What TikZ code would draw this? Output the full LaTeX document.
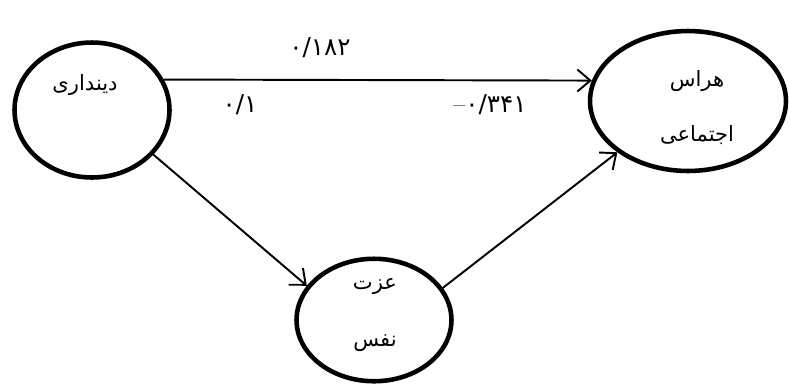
\documentclass[tikz,border=0pt]{standalone}
\usepackage{fontspec}
\newfontfamily\arabicfont[Script=Arabic]{DejaVu Sans}
\TeXXeTstate=1
\usetikzlibrary{positioning, arrows.meta, shapes.geometric}

\begin{document}
\begin{tikzpicture}[x=0.02cm, y=-0.02cm, var/.style={draw, ellipse, line width=2.6pt, inner sep=0pt}, lbl/.style={font=\arabicfont\fontsize{12}{14}\selectfont, inner sep=1pt}, coef/.style={font=\arabicfont\fontsize{14}{16}\selectfont, inner sep=1pt}, arrow/.style={-{Straight Barb[length=2.6mm, width=4.4mm]}, line width=1.1pt}]

  \useasboundingbox (0,0) rectangle (790,383);

  \node[var, minimum width=3.1cm, minimum height=2.7cm] (din) at (92,110) {};
  \node[lbl] (dint) at (85,85) {\beginR دینداری\endR};

  \node[var, minimum width=3.92cm, minimum height=2.8cm] (haras) at (688,101) {};
  \node[lbl] (harast) at (697,81) {\beginR هراس\endR};
  \node[lbl, below=0.6cm of harast] (ejtemat) {\beginR اجتماعی\endR};

  \node[var, minimum width=3.1cm, minimum height=2.45cm] (ezzat) at (374,320) {};
  \node[lbl] (ezzatt) at (375,287) {\beginR عزت\endR};
  \node[lbl, below=0.7cm of ezzatt] (nafst) {\beginR نفس\endR};

  \draw[arrow] (din.23) -- (haras.168);
  \draw[arrow] (din.-36) -- (ezzat.153);
  \draw[arrow] (ezzat.25) -- (haras.216);

  \node[coef] (c1) at (320,48) {۰/۱۸۲};
  \node[coef] (c2) at (240,105) {۰/۱};
  \node[coef] (c3) at (490,105) {{\rmfamily --}۰/۳۴۱};
\end{tikzpicture}
\end{document}
